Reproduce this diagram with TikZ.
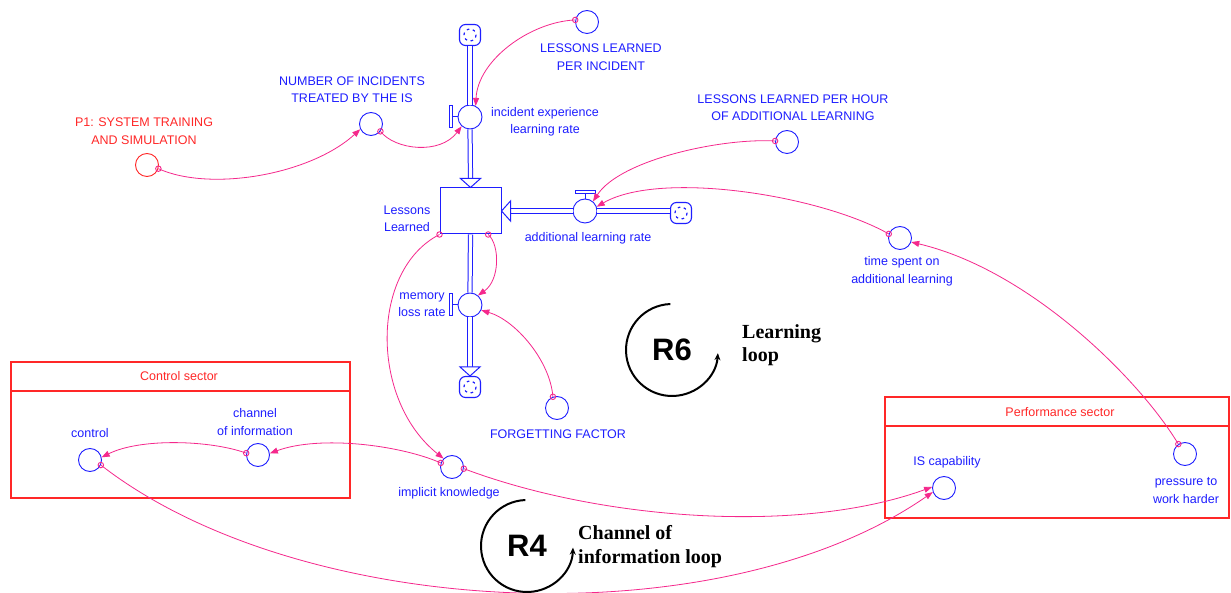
\documentclass[tikz,border=0pt]{standalone}
\usepackage{fontspec}
\setmainfont{Liberation Sans}
\newfontfamily\lserif{Liberation Serif}
\usetikzlibrary{arrows.meta}
\definecolor{sdblue}{RGB}{30,30,255}
\definecolor{sdpink}{RGB}{245,40,140}
\definecolor{sdred}{RGB}{255,40,40}
\begin{document}
\begin{tikzpicture}[x=1pt,y=-1pt,
  conv/.style={circle,draw=sdblue,line width=0.9pt,minimum size=23pt,inner sep=0pt},
  redconv/.style={conv,draw=sdred},
  valve/.style={circle,draw=sdblue,line width=0.9pt,minimum size=24pt,inner sep=0pt},
  stockbox/.style={draw=sdblue,line width=1pt,minimum width=61pt,minimum height=46pt,inner sep=0pt},
  cloudbox/.style={draw=sdblue,line width=1.1pt,rounded corners=6pt,minimum size=21pt,inner sep=0pt},
  cloudin/.style={draw=sdblue,line width=1.2pt,dash pattern=on 2.6pt off 3.6pt},
  pipe/.style={draw=sdblue,line width=1pt,double=white,double distance=3.2pt},
  pipehead/.style={draw=sdblue,line width=1pt,fill=white},
  handlebar/.style={draw=sdblue,line width=1pt},
  lbl/.style={text=sdblue,font=\fontsize{12.5}{17.5}\selectfont,align=center,inner sep=0pt},
  redlbl/.style={lbl,text=sdred},
  link/.style={draw=sdpink,line width=0.8pt,-{Triangle[length=8pt,width=6pt]}},
  tailmark/.style={circle,draw=sdpink,line width=0.9pt,minimum size=5.5pt,inner sep=0pt},
  sector/.style={draw=sdred,line width=1.1pt},
  loopline/.style={draw=black,line width=2pt,-{Stealth[length=7pt,width=6pt]}},
  loopname/.style={font=\fontsize{31}{31}\selectfont\bfseries,inner sep=0pt},
  looptext/.style={font=\lserif\bfseries\fontsize{20}{23.5}\selectfont,align=left,inner sep=0pt,anchor=west},
]
\useasboundingbox[fill=white] (0,0) rectangle (1231,593);

% sectors
\draw[sector] (11,362) rectangle (350,498);
\draw[sector] (11,391) -- (350,391);
\node[redlbl] (tCS) at (179,376) {Control sector};
\draw[sector] (885,397) rectangle (1229,518);
\draw[sector] (885,426) -- (1229,426);
\node[redlbl] (tPS) at (1060,412) {Performance sector};

% stock, valves, clouds
\node[stockbox] (S) at (470.5,211) {};
\node[valve] (IER) at (470,117) {};
\node[valve] (ALR) at (585,211) {};
\node[valve] (MLR) at (470,305) {};
\node[cloudbox] (C1) at (470,35) {};
\node[cloudbox] (C2) at (681,213) {};
\node[cloudbox] (C3) at (470,387) {};
\draw[cloudin] (C1.center) circle[radius=6];
\draw[cloudin] (C2.center) circle[radius=6];
\draw[cloudin] (C3.center) circle[radius=6];

% pipes
\draw[pipe] (C1.south) -- (IER.north);
\draw[pipe] (IER.south) -- ([yshift=9pt]S.north);
\draw[pipehead] (S.north) -- ++(-10,-9) -- ++(20,0) -- cycle;
\draw[pipe] (ALR.east) -- (ALR.east -| C2.west);
\draw[pipe] (ALR.west) -- ([xshift=9pt]S.east);
\draw[pipehead] (S.east) -- ++(9,-10) -- ++(0,20) -- cycle;
\draw[pipe] (S.south) -- (MLR.north);
\draw[pipe] (MLR.south) -- ([yshift=9pt]C3.north);
\draw[pipehead] (C3.north) -- ++(-10,-9) -- ++(20,0) -- cycle;

% valve handles
\draw[handlebar] ([xshift=-5pt]IER.west) -- (IER.west);
\draw[handlebar] ([xshift=-8pt,yshift=-11pt]IER.west) rectangle ([xshift=-5pt,yshift=11pt]IER.west);
\draw[handlebar] ([xshift=-5pt]MLR.west) -- (MLR.west);
\draw[handlebar] ([xshift=-8pt,yshift=-11pt]MLR.west) rectangle ([xshift=-5pt,yshift=11pt]MLR.west);
\draw[handlebar] (ALR.north) -- ([yshift=5pt]ALR.north);
\draw[handlebar] ([xshift=-10pt,yshift=5pt]ALR.north) rectangle ([xshift=10pt,yshift=8pt]ALR.north);

% converters
\node[conv] (LPI) at (587,22) {};
\node[conv] (NUM) at (371,124) {};
\node[redconv] (P1) at (147,165) {};
\node[conv] (LPH) at (787,142) {};
\node[conv] (TIME) at (900,238) {};
\node[conv] (FF) at (557,408) {};
\node[conv] (CTL) at (90,460) {};
\node[conv] (CHAN) at (258,455) {};
\node[conv] (IMP) at (452,467) {};
\node[conv] (IS) at (944,488) {};
\node[conv] (PRESS) at (1185,454) {};

% labels
\node[lbl] (tLPI) at (601,57) {LESSONS LEARNED\\PER INCIDENT};
\node[lbl] (tIER) at (545,122) {incident experience\\learning rate};
\node[lbl] (tNUM) at (352,89.5) {NUMBER OF INCIDENTS\\TREATED BY THE IS};
\node[redlbl] (tP1) at (144,131) {P1: SYSTEM TRAINING\\AND SIMULATION};
\node[lbl] (tS) at (407,219) {Lessons\\Learned};
\node[lbl] (tALR) at (588,238) {additional learning rate};
\node[lbl] (tLPH) at (793,107.5) {LESSONS LEARNED PER HOUR\\OF ADDITIONAL LEARNING};
\node[lbl] (tTIME) at (902,271.5) {time spent on\\additional learning};
\node[lbl] (tMLR) at (422,304.5) {memory\\loss rate};
\node[lbl] (tFF) at (558,434) {FORGETTING FACTOR};
\node[lbl] (tCTL) at (90,433) {control};
\node[lbl] (tCHAN) at (255,422) {channel\\of information};
\node[lbl] (tIMP) at (449,493) {implicit knowledge};
\node[lbl] (tIS) at (947,462) {IS capability};
\node[lbl] (tPRESS) at (1186,490.5) {pressure to\\work harder};

% links
\draw[link] (P1.-18) node[tailmark]{} .. controls (210,192) and (310,175) .. (NUM.-154);
\draw[link] (NUM.-38) node[tailmark]{} .. controls (395,150) and (440,155) .. (IER.-132);
\draw[link] (LPI.170) node[tailmark]{} .. controls (530,22) and (478,60) .. (IER.63);
\draw[link] (LPH.175) node[tailmark]{} .. controls (720,138) and (620,160) .. (ALR.50);
\draw[link] (TIME.160) node[tailmark]{} .. controls (820,195) and (660,170) .. (ALR.20);
\draw[link] (PRESS.124) node[tailmark]{} .. controls (1140,380) and (1030,270) .. (TIME.-20);
\draw[link] (S.-53) node[tailmark]{} .. controls (500,245) and (500,280) .. (MLR.50);
\draw[link] (FF.110) node[tailmark]{} .. controls (550,360) and (515,320) .. (MLR.-25);
\draw[link] (S.south west) node[tailmark]{} .. controls (370,270) and (370,400) .. (IMP.135);
\draw[link] (IMP.160) node[tailmark]{} .. controls (400,445) and (320,435) .. (CHAN.8);
\draw[link] (CHAN.171) node[tailmark]{} .. controls (210,440) and (140,438) .. (CTL.13);
\draw[link] (IMP.-8) node[tailmark]{} .. controls (600,520) and (800,535) .. (IS.175);
\draw[link] (CTL.-25) node[tailmark]{} .. controls (300,620) and (720,640) .. (IS.200);

% loops
\node[loopname] (R6) at (672,350) {R6};
\draw[loopline] (R6.center) ++(268:46) arc[start angle=268,end angle=4,radius=46];
\node[looptext] (tR6) at (742,345) {Learning\\loop};
\node[loopname] (R4) at (527,546) {R4};
\draw[loopline] (R4.center) ++(268:46) arc[start angle=268,end angle=2,radius=46];
\node[looptext] (tR4) at (578,546.5) {Channel of\\information loop};
\end{tikzpicture}
\end{document}
